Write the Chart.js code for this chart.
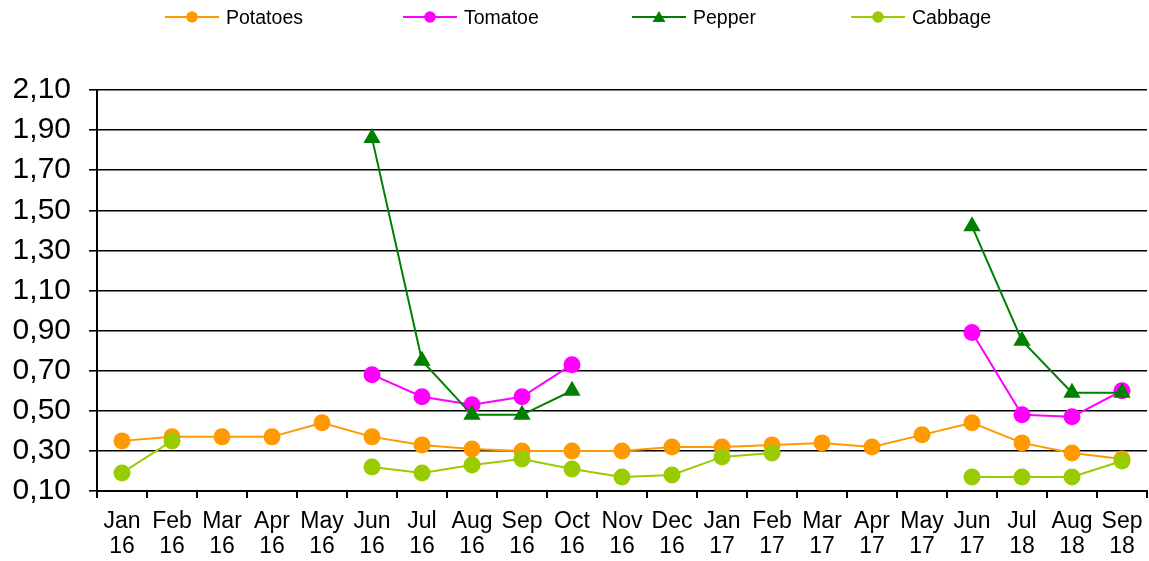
<!DOCTYPE html>
<html>
<head>
<meta charset="utf-8">
<title>Vegetable prices</title>
<script src="https://cdn.jsdelivr.net/npm/chart.js@4"></script>
<style>
    body { margin: 0; background: #fff; font-family: "Liberation Sans", Arial, sans-serif; }
    #wrap { position: relative; width: 1149px; height: 561px; }
    #priceChart { position: absolute; left: 0; top: 0; }
    .legend-item { position: absolute; top: 6px; height: 22px; display: flex; align-items: center; font-size: 19.5px; color: #000; }
    .legend-item svg { margin-right: 7px; }
</style>
</head>
<body>
<div id="wrap">
    <canvas id="priceChart" width="1149" height="561"></canvas>
    <div id="legend"></div>
</div>
<script>
// Chart data
const months = [
    ["Jan", "16"], ["Feb", "16"], ["Mar", "16"], ["Apr", "16"], ["May", "16"], ["Jun", "16"],
    ["Jul", "16"], ["Aug", "16"], ["Sep", "16"], ["Oct", "16"], ["Nov", "16"], ["Dec", "16"],
    ["Jan", "17"], ["Feb", "17"], ["Mar", "17"], ["Apr", "17"], ["May", "17"], ["Jun", "17"],
    ["Jul", "18"], ["Aug", "18"], ["Sep", "18"]
];
const potatoes = [0.35, 0.37, 0.37, 0.37, 0.44, 0.37, 0.33, 0.31, 0.30, 0.30, 0.30, 0.32, 0.32, 0.33, 0.34, 0.32, 0.38, 0.44, 0.34, 0.29, 0.26];
const tomatoe = [null, null, null, null, null, 0.68, 0.57, 0.53, 0.57, 0.73, null, null, null, null, null, null, null, 0.89, 0.48, 0.47, 0.60];
const pepper = [null, null, null, null, null, 1.86, 0.75, 0.48, 0.48, 0.60, null, null, null, null, null, null, null, 1.42, 0.85, 0.59, 0.59];
const cabbage = [0.19, 0.35, null, null, null, 0.22, 0.19, 0.23, 0.26, 0.21, 0.17, 0.18, 0.27, 0.29, null, null, null, 0.17, 0.17, 0.17, 0.25];

const seriesInfo = [
    { label: "Potatoes", data: potatoes, color: "#FF9900", marker: "circle", left: 165 },
    { label: "Tomatoe", data: tomatoe, color: "#FF00FF", marker: "circle", left: 403 },
    { label: "Pepper", data: pepper, color: "#008000", marker: "triangle", left: 632 },
    { label: "Cabbage", data: cabbage, color: "#99CC00", marker: "circle", left: 851 }
];

document.addEventListener("DOMContentLoaded", () => {
    const font = "'Liberation Sans', Arial, sans-serif";

    // Legend built as html: line + marker, then label
    const legend = document.getElementById("legend");
    seriesInfo.forEach(s => {
        const item = document.createElement("div");
        item.className = "legend-item";
        item.style.left = s.left + "px";
        const mark = s.marker === "triangle"
            ? `<polygon points="27,1 33.5,12 20.5,12" fill="${s.color}"/>`
            : `<circle cx="27" cy="7" r="5.8" fill="${s.color}"/>`;
        item.innerHTML = `<svg width="54" height="14"><line x1="0" y1="7" x2="54" y2="7" stroke="${s.color}" stroke-width="2"/>${mark}</svg><span>${s.label}</span>`;
        legend.appendChild(item);
    });

    const datasets = seriesInfo.map((s, i) => ({
        label: s.label,
        data: s.data,
        borderColor: s.color,
        backgroundColor: s.color,
        borderWidth: 2,
        pointStyle: s.marker,
        pointRadius: s.marker === "triangle" ? 10 : 8.5,
        pointBorderWidth: 0,
        spanGaps: false,
        tension: 0,
        order: seriesInfo.length - i   // later series drawn on top
    }));

    new Chart(document.getElementById("priceChart"), {
        type: "line",
        data: { labels: months, datasets: datasets },
        options: {
            responsive: false,
            animation: false,
            layout: { autoPadding: false, padding: { top: 90, right: 2, left: 0, bottom: 0 } },
            plugins: { legend: { display: false }, tooltip: { enabled: false } },
            scales: {
                x: {
                    offset: true,
                    border: { color: "#000", width: 2 },
                    grid: { offset: true, drawOnChartArea: false, drawTicks: true, tickLength: 7, color: "#000", lineWidth: 2 },
                    ticks: { color: "#000", font: { family: font, size: 23, lineHeight: 1.08 }, padding: 11, maxRotation: 0, autoSkip: false },
                    afterFit: axis => {
                        axis.height = 70;
                        axis.paddingLeft = 0;
                        axis.paddingRight = 0;
                    }
                },
                y: {
                    min: 0.10,
                    max: 2.10,
                    border: { color: "#000", width: 2 },
                    grid: { color: "#000", lineWidth: 1.6, tickLength: 8 },
                    ticks: {
                        stepSize: 0.2,
                        autoSkip: false,
                        color: "#000",
                        padding: 18,
                        font: { family: font, size: 30 },
                        callback: v => v.toFixed(2).replace(".", ",")
                    },
                    afterFit: axis => { axis.width = 97; }
                }
            }
        }
    });
});
</script>
</body>
</html>
